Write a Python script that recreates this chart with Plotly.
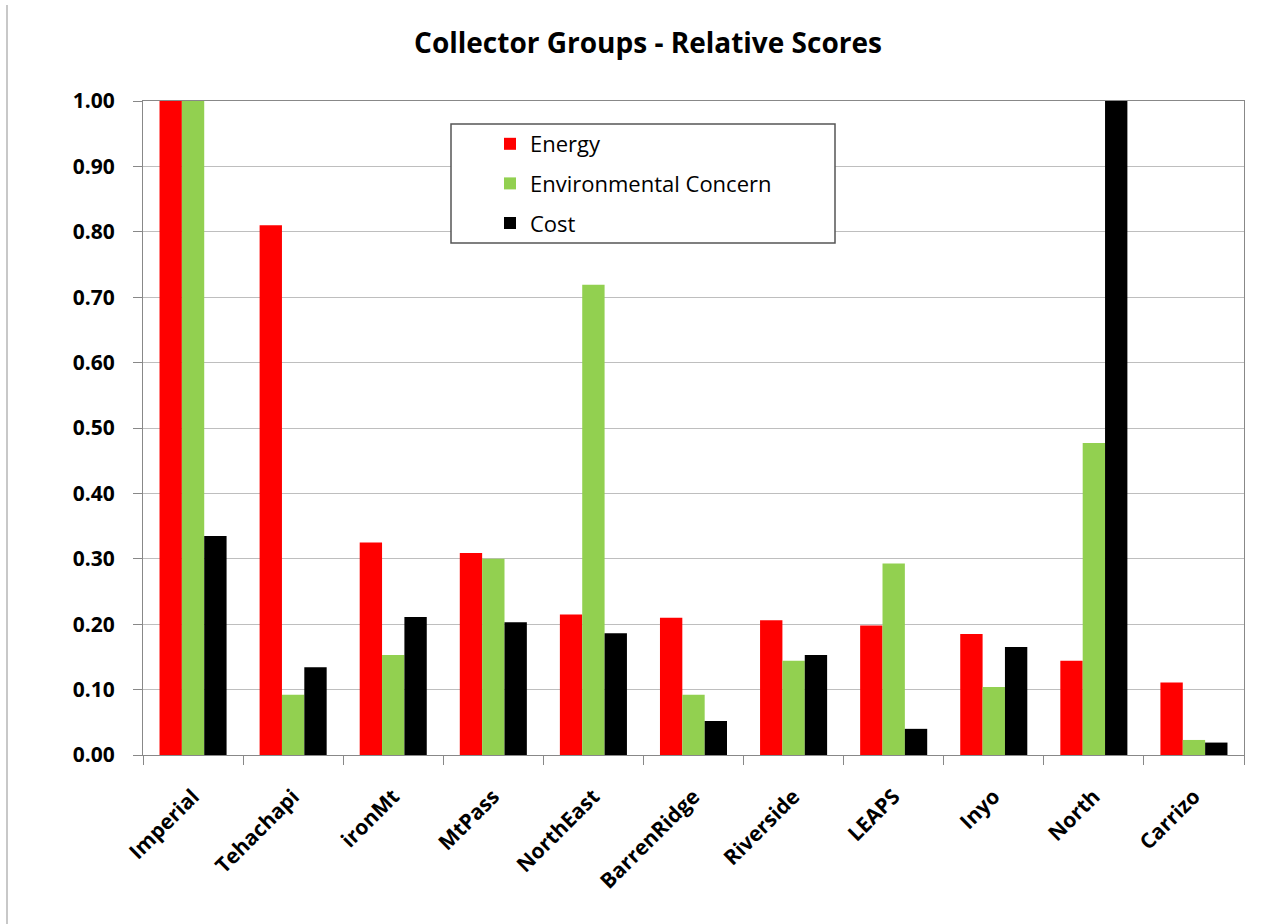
import plotly.graph_objects as go

categories = ["Imperial", "Tehachapi", "ironMt", "MtPass", "NorthEast", "BarrenRidge",
              "Riverside", "LEAPS", "Inyo", "North", "Carrizo"]
energy = [1.00, 0.810, 0.325, 0.309, 0.215, 0.210, 0.206, 0.198, 0.185, 0.144, 0.111]
environmental = [1.00, 0.092, 0.153, 0.300, 0.719, 0.092, 0.144, 0.293, 0.104, 0.477, 0.023]
cost = [0.335, 0.134, 0.211, 0.203, 0.186, 0.052, 0.153, 0.040, 0.165, 1.00, 0.019]
y_tick_vals = [0.0, 0.1, 0.2, 0.3, 0.4, 0.5, 0.6, 0.7, 0.8, 0.9, 1.0]
y_tick_text = ["0.00", "0.10", "0.20", "0.30", "0.40", "0.50", "0.60", "0.70", "0.80", "0.90", "1.00"]

W, H = 1284, 924
L, R, T, B = 143, 40, 101, 169
pw, ph = W - L - R, H - T - B

def px_x(px):
    return (px - L) / pw

def px_y(py):
    return (H - B - py) / ph

FONT = "'Open Sans', Lato, sans-serif"

fig = go.Figure()
series = [("Energy", energy, "#FF0000"),
          ("Environmental Concern", environmental, "#92D050"),
          ("Cost", cost, "#000000")]
for name, vals, col in series:
    fig.add_trace(go.Bar(x=categories, y=vals, name=name, marker_color=col,
                         marker_line_width=0, legendgroup=name))

fig.update_layout(
    width=W, height=H,
    margin=dict(l=L, r=R, t=T, b=B),
    paper_bgcolor="white", plot_bgcolor="white",
    barmode="group", bargap=0.33, bargroupgap=0,
    font=dict(family=FONT, color="#000000"),
    title=dict(text="Collector Groups - Relative Scores", x=px_x(648),
               xref="paper", y=1 - 43 / H, yref="container", xanchor="center", yanchor="middle",
               font=dict(family=FONT, size=28, weight="bold", color="#000000")),
    showlegend=True,
    legend=dict(x=px_x(490), y=px_y(123), xanchor="left", yanchor="top",
                bgcolor="rgba(0,0,0,0)", borderwidth=0,
                font=dict(family=FONT, size=22, color="#000000"),
                tracegroupgap=8),
    xaxis=dict(type="category", showgrid=False, showline=True, linecolor="#888888",
               linewidth=1, mirror=True, ticks="outside", tickson="boundaries",
               ticklen=9, tickcolor="#888888", tickangle=-45,
               tickfont=dict(family=FONT, size=21, weight="bold", color="#000000"),
               ticklabelstandoff=20),
    yaxis=dict(range=[0, 1.0], tickvals=y_tick_vals, ticktext=y_tick_text,
               showgrid=True, gridcolor="#BEBEBE", gridwidth=1,
               showline=True, linecolor="#888888", linewidth=1, mirror=True,
               ticks="outside", ticklen=9, tickcolor="#888888",
               tickfont=dict(family=FONT, size=21, weight="bold", color="#000000"),
               ticklabelstandoff=14, zeroline=False),
)

# legend frame (white box covering gridlines)
fig.add_shape(type="rect", xref="paper", yref="paper",
              x0=px_x(451), x1=px_x(835), y0=px_y(243), y1=px_y(124),
              line=dict(color="#555555", width=1.5), fillcolor="white", layer="above")
# left chart-area edge line
fig.add_shape(type="line", xref="paper", yref="paper",
              x0=px_x(7), x1=px_x(7), y0=px_y(H), y1=px_y(5),
              line=dict(color="#C8C8C8", width=2), layer="above")

fig.write_html("out.html")
